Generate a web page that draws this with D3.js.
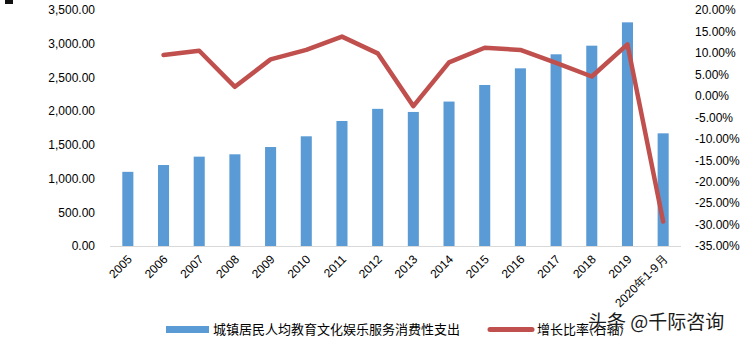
<!DOCTYPE html>
<html><head><meta charset="utf-8">
<script src="https://cdn.jsdelivr.net/npm/d3@7/dist/d3.min.js"></script>
<style>body{margin:0;background:#fff;}svg{display:block;}</style>
</head><body><svg id="c" width="741" height="339"></svg>
<script>
const categories = ["2005","2006","2007","2008","2009","2010","2011","2012","2013","2014","2015","2016","2017","2018","2019","2020年1-9月"];
const spending = [1100,1201,1325,1360,1468,1627,1854,2034,1988,2142,2388,2635,2843,2971,3317,1671];
const growth = [null,9.5,10.5,2.1,8.5,10.7,13.8,9.9,-2.4,7.8,11.2,10.7,7.7,4.5,12.0,-29.3];
const leftTicks = [0,500,1000,1500,2000,2500,3000,3500];
const rightTicks = [20,15,10,5,0,-5,-10,-15,-20,-25,-30,-35];
const seriesNames = ["城镇居民人均教育文化娱乐服务消费性支出","增长比率(右轴)"];

const svg = d3.select("#c");
const pTop = 10, pBottom = 246, pLeft = 110, pRight = 681;
const x = d3.scaleBand().domain(categories).range([pLeft,pRight]).paddingInner(0.69).paddingOuter(0.345);
const yL = d3.scaleLinear().domain([0,3500]).range([pBottom,pTop]);
const yR = d3.scaleLinear().domain([-35,20]).range([pBottom,pTop]);
const font = "'Liberation Sans', Arial, sans-serif";

// bars
svg.append("g").selectAll("rect").data(categories).join("rect")
  .attr("x", d=>x(d)).attr("width", x.bandwidth())
  .attr("y", (d,i)=>yL(spending[i])).attr("height", (d,i)=>pBottom - yL(spending[i]))
  .attr("fill","#5B9BD5");

// x axis line
svg.append("line").attr("x1",pLeft).attr("x2",pRight).attr("y1",pBottom+0.5).attr("y2",pBottom+0.5)
  .attr("stroke","#D9D9D9").attr("stroke-width",1);

// left axis labels
const gl = svg.append("g").attr("transform",`translate(95,0)`)
  .call(d3.axisLeft(yL).tickValues(leftTicks).tickSize(0).tickPadding(0).tickFormat(d3.format(",.2f")));
gl.select(".domain").remove();
gl.selectAll("text").attr("font-family",font).attr("font-size",12).attr("fill","#000");

// right axis labels
const gr = svg.append("g").attr("transform",`translate(695,0)`)
  .call(d3.axisRight(yR).tickValues(rightTicks).tickSize(0).tickPadding(0).tickFormat(d=>d.toFixed(2)+"%"));
gr.select(".domain").remove();
gr.selectAll("text").attr("font-family",font).attr("font-size",12).attr("fill","#000");

// x labels
svg.append("g").selectAll("text").data(categories).join("text")
  .attr("transform", d=>`translate(${x(d)+x.bandwidth()/2+5},${pBottom+14}) rotate(-45)`)
  .attr("text-anchor","end").attr("font-family",font).attr("font-size",12).attr("fill","#000")
  .text(d=>d);

// line
const line = d3.line().defined(d=>d.v!==null)
  .x(d=>x(d.c)+x.bandwidth()/2).y(d=>yR(d.v));
svg.append("path").datum(categories.map((c,i)=>({c, v:growth[i]})))
  .attr("d", line).attr("fill","none").attr("stroke","#C0504D")
  .attr("stroke-width",4.5).attr("stroke-linejoin","round").attr("stroke-linecap","round");

// legend
const lg = svg.append("g");
lg.append("rect").attr("x",166).attr("y",326).attr("width",43).attr("height",7).attr("fill","#5B9BD5");
lg.append("text").attr("x",213).attr("y",334).attr("font-family","'Noto Sans CJK SC', sans-serif")
  .attr("font-size",13).attr("fill","#000").text(seriesNames[0]);
lg.append("line").attr("x1",490).attr("x2",532).attr("y1",329.5).attr("y2",329.5)
  .attr("stroke","#C0504D").attr("stroke-width",5).attr("stroke-linecap","round");
lg.append("text").attr("x",537).attr("y",334).attr("font-family","'Noto Sans CJK SC', sans-serif")
  .attr("font-size",13).attr("fill","#000").text(seriesNames[1]);

// watermark
svg.append("text").attr("x",588).attr("y",329).attr("font-family","'Noto Sans CJK SC', sans-serif")
  .attr("font-size",19).attr("fill","#1a1a1a").attr("stroke","#fff").attr("stroke-width",0.6)
  .attr("paint-order","stroke").text("头条 @千际咨询");

// corner mark
svg.append("rect").attr("x",5).attr("y",0).attr("width",8).attr("height",4).attr("fill","#111");
</script></body></html>
